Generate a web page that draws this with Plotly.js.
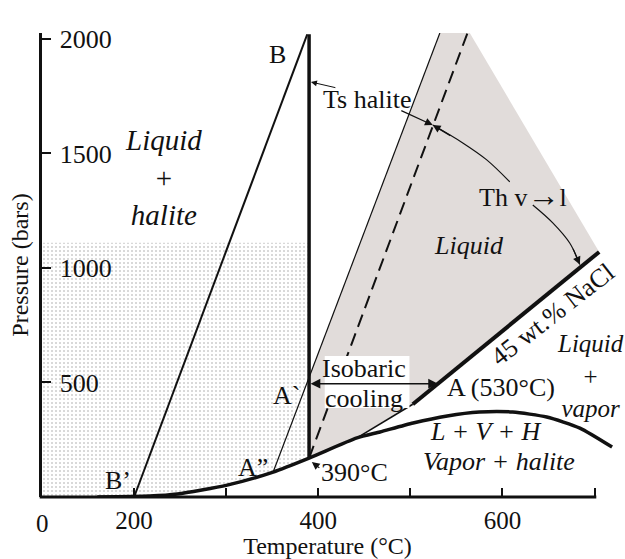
<!DOCTYPE html>
<html><head><meta charset="utf-8">
<script src="https://cdn.plot.ly/plotly-3.0.1.min.js"></script>
<style>html,body{margin:0;padding:0;background:#fff}#chart{width:625px;height:559px}</style>
</head><body><div id="chart"></div>
<script>
// Key temperatures (°C) and pressure (bars)
const liqTemp = 390;      // halite liquidus meets L+V+H
const aTemp = 530;        // point A on the 45 wt.% NaCl curve
const isobarP = 495;      // isobaric cooling path

// L + V + H three-phase curve
const lvhT = [160, 217, 247, 301, 351, liqTemp, 442, 467, 503, 540, 575, 611, 648, 684, 719];
const lvhP = [0, 4, 13, 52, 109, 170, 258, 284, 323, 354, 371, 371, 349, 301, 218];
// LIQ: halite liquidus
const liqT = [liqTemp, liqTemp];
const liqP = [170, 2020];
// B' - B path
const bT = [200, 388];
const bP = [0, 2020];
// isochore through A'' and A'
const isoAT = [351, 532];
const isoAP = [109, 2026];
// ISO dashed isochore
const isoT = [liqTemp, 562];
const isoP = [170, 2026];
// 45 wt.% NaCl liquid-vapor curve
const nacl45T = [502.6, aTemp, 705];
const nacl45P = [405, isobarP, 1070];
const nacl45LowT = [502.6, 442];
const nacl45LowP = [405, 258];
// Liquid field
const liquidT = [532, 564.5, 705, 502.6, 442, liqTemp, liqTemp, 532];
const liquidP = [2026, 2026, 1070, 405, 258, 170, 525, 2026];
// Liquid + halite stippled field
const halT = [100, liqTemp, liqTemp, 351, 301, 247, 217, 160, 100, 100];
const halP = [1110, 1110, 170, 109, 52, 13, 4, 0, 0, 1110];
// Th v->l arc, split around its label
const thArc1T = [524.3, 556.9, 582.9, 607.9];
const thArc1P = [1624, 1546, 1472, 1376];
const thArc2T = [632.9, 654.6, 673.0, 683.9];
const thArc2P = [1275, 1197, 1109, 1015];
// Axis ticks (the temperature axis is broken between 0 and 200 °C)
const xTickVals = [100, 200, 300, 400, 500, 600, 700];
const xTickText = ['', '200', '', '400', '', '600', ''];
const xOriginLabel = '0';
const yTickVals = [500, 1000, 1500, 2000];
const yTickText = ['500', '1000', '1500', '2000'];

const SERIF = '"Liberation Serif", "Times New Roman", serif';
const INK = '#111';

function line(x, y, width, extra) {
  return Object.assign({
    x: x, y: y, type: 'scatter', mode: 'lines', hoverinfo: 'skip',
    line: {color: INK, width: width}
  }, extra || {});
}

const traces = [
  // stippled liquid + halite field
  {x: halT, y: halP, type: 'scatter', mode: 'lines', fill: 'toself',
   fillcolor: 'rgba(255,255,255,0)', line: {width: 0, color: 'rgba(0,0,0,0)'},
   fillpattern: {shape: '.', fgcolor: '#cdcdcd', bgcolor: '#ffffff', size: 4, solidity: 0.2},
   hoverinfo: 'skip'},
  // grey liquid field
  {x: liquidT, y: liquidP, type: 'scatter', mode: 'lines', fill: 'toself',
   fillcolor: '#e1dcda', line: {width: 0, color: 'rgba(0,0,0,0)'}, hoverinfo: 'skip'},
  line(isoAT, isoAP, 1.2),
  line(isoT, isoP, 2, {line: {color: INK, width: 2, dash: '13px,7px'}}),
  line(bT, bP, 2),
  line(liqT, liqP, 3.5),
  line(nacl45LowT, nacl45LowP, 1.6),
  line(nacl45T, nacl45P, 4),
  line(lvhT, lvhP, 3.5, {line: {color: INK, width: 3.5, shape: 'spline', smoothing: 0.6}}),
  line(thArc1T, thArc1P, 1.2, {line: {color: INK, width: 1.2, shape: 'spline'}}),
  line(thArc2T, thArc2P, 1.2, {line: {color: INK, width: 1.2, shape: 'spline'}})
];

function lab(text, x, y, size, extra) {
  return Object.assign({
    text: text, x: x, y: y, xref: 'x', yref: 'y', showarrow: false,
    font: {family: SERIF, size: size || 26, color: INK}
  }, extra || {});
}
function arrow(x, y, ax, ay, extra) {
  return Object.assign({
    text: '', x: x, y: y, ax: ax, ay: ay, xref: 'x', yref: 'y', axref: 'x', ayref: 'y',
    showarrow: true, arrowhead: 2, arrowsize: 1.3, arrowwidth: 1.2, arrowcolor: INK,
    standoff: 0, startstandoff: 0
  }, extra || {});
}

const annotations = [
  lab('LIQ', 386.5, 2092, 26),
  lab('ISO', 566.7, 2092, 26),
  lab('B', 356, 1930, 26),
  lab('B’', 182.5, 74, 26),
  lab('A`', 365.9, 445, 26),
  lab('A”', 329, 131, 26),
  lab('<i>Liquid</i><br>+<br><i>halite</i>', 232.4, 1397, 29),
  lab('Ts halite', 452.7, 1734, 26),
  lab('Th v<span style="font-size:32px"><b>→</b></span>l', 622, 1319, 26),
  lab('<i>Liquid</i>', 563.4, 1100, 26),
  lab('45 wt.% NaCl', 654.6, 795, 26, {textangle: -38}),
  lab('<i>Liquid</i><br>+<br><i>vapor</i>', 695.5, 528, 25),
  lab('A (' + aTemp + '°C)', 598.1, 476, 26),
  lab('Isobaric', 449.5, 563, 26),
  lab('cooling', 449.5, 432, 26),
  lab('<i>L + V + H</i>', 581.9, 284, 26),
  lab('<i>Vapor + halite</i>', 596, 153, 26),
  lab(liqTemp + '°C', 439.8, 109, 26),
  // origin label of the broken temperature axis
  {text: xOriginLabel, x: 100, y: 0, xref: 'x', yref: 'paper', yanchor: 'top', yshift: -11,
   showarrow: false, font: {family: SERIF, size: 25, color: INK}},
  // isobaric cooling, LIQ <-> A
  arrow(aTemp, isobarP, liqTemp, isobarP, {arrowside: 'end+start', arrowwidth: 1.5, arrowsize: 1.3}),
  // Ts halite pointers
  arrow(392, 1812, 420.2, 1786, {arrowwidth: 1, arrowsize: 1.2}),
  arrow(524.3, 1624, 488.5, 1690, {arrowwidth: 1.2}),
  // Th v->l arc heads
  arrow(524.3, 1624, 545, 1574, {arrowwidth: 1.2}),
  arrow(683.9, 1015, 676, 1090, {arrowwidth: 1.2}),
  // 390 °C pointer
  arrow(393, 153, 402.8, 122, {arrowwidth: 1.2})
];

const shapes = [
  // white box behind the isobaric cooling label
  {type: 'rect', xref: 'x', yref: 'y', x0: 407, x1: 499, y0: 389, y1: 616,
   fillcolor: '#ffffff', line: {width: 0}, layer: 'above'},
  // temperature axis line, ending at 700 °C
  {type: 'line', xref: 'paper', yref: 'paper', x0: -0.004, x1: (700 - 100) / 620 + 0.003, y0: 0, y1: 0,
   line: {color: INK, width: 3}}
];

const layout = {
  width: 625, height: 559,
  margin: {l: 42, r: 12, t: 33, b: 62},
  paper_bgcolor: '#ffffff', plot_bgcolor: '#ffffff',
  showlegend: false,
  font: {family: SERIF, color: INK, size: 26},
  xaxis: {
    range: [100, 720], showline: false, zeroline: false, showgrid: false,
    tickmode: 'array', tickvals: xTickVals, ticktext: xTickText,
    ticks: 'inside', ticklen: 9, tickwidth: 2, tickcolor: INK,
    ticklabelstandoff: 6,
    tickfont: {family: SERIF, size: 25, color: INK},
    title: {text: 'Temperature (°C)', font: {family: SERIF, size: 24, color: INK}, standoff: 4}
  },
  yaxis: {
    range: [0, 2026], showline: true, linewidth: 3, linecolor: INK,
    zeroline: false, showgrid: false,
    tickmode: 'array', tickvals: yTickVals, ticktext: yTickText,
    ticks: 'inside', ticklen: 9, tickwidth: 2, tickcolor: INK,
    ticklabelposition: 'inside', ticklabeloverflow: 'allow', ticklabelstandoff: 11,
    tickfont: {family: SERIF, size: 26, color: INK},
    title: {text: 'Pressure (bars)', font: {family: SERIF, size: 24, color: INK}, standoff: 25}
  },
  shapes: shapes,
  annotations: annotations
};

Plotly.newPlot('chart', traces, layout, {staticPlot: true, displayModeBar: false});
</script>
</body></html>
